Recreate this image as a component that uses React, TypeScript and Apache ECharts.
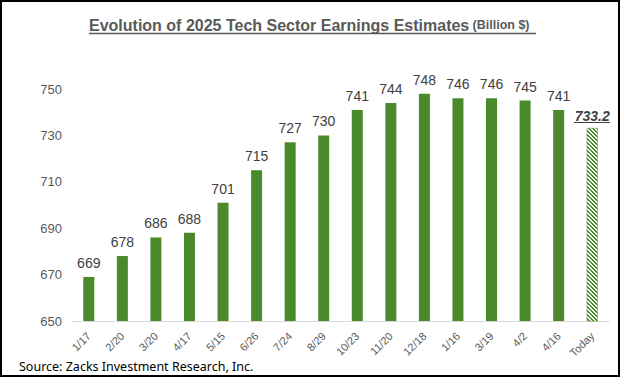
import React, { useEffect, useRef } from "react";
import * as echarts from "echarts";

const categories = ["1/17", "2/20", "3/20", "4/17", "5/15", "6/26", "7/24", "8/29", "10/23", "11/20", "12/18", "1/16", "3/19", "4/2", "4/16", "Today"];
const values = [669, 678, 686, 688, 701, 715, 727, 730, 741, 744, 748, 746, 746, 745, 741, 733.2];
const yMin = 650;
const yMax = 750;
const yInterval = 20;

const GREEN = "#4a8a2b";

function makeHatch(): HTMLCanvasElement {
  const c = document.createElement("canvas");
  const n = 4;
  c.width = n;
  c.height = n;
  const ctx = c.getContext("2d")!;
  ctx.fillStyle = "#ffffff";
  ctx.fillRect(0, 0, n, n);
  ctx.fillStyle = GREEN;
  for (let y = 0; y < n; y++) {
    for (let x = 0; x < n; x++) {
      const d = (((x - y) % n) + n) % n;
      if (d === 0 || d === 1) ctx.fillRect(x, y, 1, 1);
    }
  }
  return c;
}

export default function App() {
  const ref = useRef<HTMLDivElement>(null);
  useEffect(() => {
    document.body.style.margin = "0";
    const chart = echarts.init(ref.current!, null, { renderer: "svg" });
    const last = values.length - 1;
    const hatch = makeHatch();
    const data = values.map((v, i) =>
      i === last
        ? {
            value: v,
            itemStyle: {
              color: { image: hatch, repeat: "repeat" },
              borderColor: GREEN,
              borderWidth: 0.5,
            },
            label: {
              distance: 5,
              fontWeight: "bold",
              fontStyle: "italic",
              fontSize: 14,
              color: "#404040",
            },
          }
        : v
    );
    chart.setOption({
      animation: false,
      grid: { left: 72, right: 11, top: 89, bottom: 56, containLabel: false },
      xAxis: {
        type: "category",
        data: categories,
        axisLine: { lineStyle: { color: "#d9d9d9", width: 1 } },
        axisTick: { show: false },
        axisLabel: {
          rotate: 45,
          interval: 0,
          margin: 13,
          color: "#595959",
          fontSize: 11,
          fontFamily: "Liberation Sans",
        },
      },
      yAxis: {
        type: "value",
        min: yMin,
        max: yMax,
        interval: yInterval,
        axisLine: { show: false },
        axisTick: { show: false },
        splitLine: { show: false },
        axisLabel: {
          margin: 10,
          color: "#595959",
          fontSize: 13,
          fontFamily: "Liberation Sans",
        },
      },
      series: [
        {
          type: "bar",
          data,
          barWidth: 11,
          itemStyle: { color: GREEN },
          label: {
            show: true,
            position: "top",
            distance: 7,
            color: "#404040",
            fontSize: 14,
            fontFamily: "Liberation Sans",
          },
        },
      ],
      graphic: [
        {
          type: "rect",
          shape: { x: 1, y: 1, width: 618, height: 375 },
          style: { fill: "none", stroke: "#000", lineWidth: 2 },
          silent: true,
        },
        {
          type: "text",
          x: 89,
          y: 25,
          style: {
            text: "{a|Evolution of 2025 Tech Sector Earnings Estimates} {b|(Billion $)}",
            textVerticalAlign: "middle",
            rich: {
              a: { fontFamily: "Liberation Sans", fontSize: 16, fontWeight: "bold", fill: "#595959" },
              b: { fontFamily: "Liberation Sans", fontSize: 12.5, fontWeight: "bold", fill: "#595959" },
            },
          },
        },
        {
          type: "line",
          shape: { x1: 89, y1: 33.5, x2: 536, y2: 33.5 },
          style: { stroke: "#595959", lineWidth: 1.6 },
        },
        {
          type: "line",
          shape: { x1: 574, y1: 122.5, x2: 610, y2: 122.5 },
          style: { stroke: "#404040", lineWidth: 1.2 },
        },
        {
          type: "text",
          x: 19,
          y: 366,
          style: {
            text: "Source: Zacks Investment Research, Inc.",
            font: "12.5px 'Liberation Sans Narrow', 'Noto Sans', sans-serif",
            fill: "#000",
            textVerticalAlign: "middle",
          },
        },
      ],
    });
    return () => chart.dispose();
  }, []);
  return <div ref={ref} style={{ width: 620, height: 377 }} />;
}
